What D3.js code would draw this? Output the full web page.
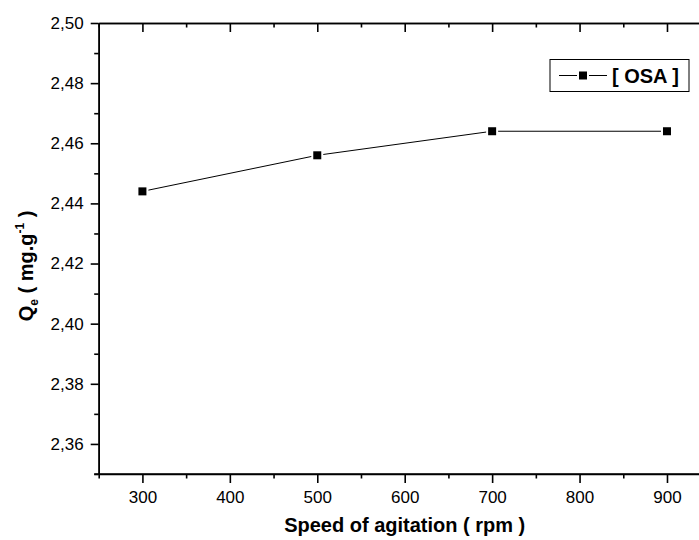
<!DOCTYPE html>
<html>
<head>
<meta charset="utf-8">
<script src="https://cdn.jsdelivr.net/npm/d3@7"></script>
<style>
  body { margin: 0; background: #fff; }
  svg { display: block; font-family: "Liberation Sans", Arial, sans-serif; }
  .axis path, .axis line { stroke: #000; stroke-width: 1.6; }
  .axis text { font-size: 17px; fill: #000; }
</style>
</head>
<body>
<svg id="chart"></svg>
<script>
// data
const speeds = [300, 500, 700, 900];
const qeValues = [2.444, 2.456, 2.464, 2.464];
const xMajor = [300, 400, 500, 600, 700, 800, 900];
const xMinor = [250, 350, 450, 550, 650, 750, 850, 950];
const yMajor = [2.36, 2.38, 2.40, 2.42, 2.44, 2.46, 2.48, 2.50];
const yMinor = [2.35, 2.37, 2.39, 2.41, 2.43, 2.45, 2.47, 2.49];
const seriesName = '[ OSA ]';

const svgDim = { w: 699, h: 540 },
  plot = { l: 98.7, r: 710.7, t: 23, b: 474 },
  $svg = d3.select('#chart')
    .attr('width', svgDim.w)
    .attr('height', svgDim.h);

const xScale = d3.scaleLinear().domain([250, 950]).range([plot.l, plot.r]),
  yScale = d3.scaleLinear().domain([2.35, 2.50]).range([plot.b, plot.t]),
  commaFmt = (d) => d3.format('.2f')(d).replace('.', ',');

// bottom axis
$svg.append('g').attr('class', 'axis')
  .attr('transform', 'translate(0,' + plot.b + ')')
  .call(d3.axisBottom(xScale).tickValues(xMajor).tickSize(9).tickSizeOuter(0).tickPadding(8));
$svg.append('g').attr('class', 'axis')
  .attr('transform', 'translate(0,' + plot.b + ')')
  .call(d3.axisBottom(xScale).tickValues(xMinor).tickSize(4.5).tickSizeOuter(0).tickFormat(''))
  .select('.domain').attr('d', 'M' + (plot.l - 4.5) + ',0H' + plot.r);

// top axis, ticks pointing inward
$svg.append('g').attr('class', 'axis')
  .attr('transform', 'translate(0,' + plot.t + ')')
  .call(d3.axisTop(xScale).tickValues(xMajor).tickSize(-9).tickSizeOuter(0).tickFormat(''));
$svg.append('g').attr('class', 'axis')
  .attr('transform', 'translate(0,' + plot.t + ')')
  .call(d3.axisTop(xScale).tickValues(xMinor).tickSize(-4.5).tickSizeOuter(0).tickFormat(''));

// left axis
$svg.append('g').attr('class', 'axis')
  .attr('transform', 'translate(' + plot.l + ',0)')
  .call(d3.axisLeft(yScale).tickValues(yMajor).tickSize(8).tickSizeOuter(0).tickPadding(7).tickFormat(commaFmt));
$svg.append('g').attr('class', 'axis')
  .attr('transform', 'translate(' + plot.l + ',0)')
  .call(d3.axisLeft(yScale).tickValues(yMinor).tickSize(4.5).tickSizeOuter(0).tickFormat(''));

// data line
const points = speeds.map((s, i) => [xScale(s), yScale(qeValues[i])]);
$svg.append('path')
  .attr('d', d3.line()(points))
  .attr('fill', 'none')
  .attr('stroke', '#000')
  .attr('stroke-width', 1);

const drawMarker = (g, cx, cy) => {
  g.append('rect').attr('x', cx - 6).attr('y', cy - 6).attr('width', 12).attr('height', 12).attr('fill', '#fff');
  g.append('rect').attr('x', cx - 4).attr('y', cy - 4).attr('width', 8).attr('height', 8).attr('fill', '#000');
};
const markers = $svg.append('g');
points.forEach((p) => drawMarker(markers, p[0], p[1]));

// legend
const legend = $svg.append('g');
legend.append('rect')
  .attr('x', 550).attr('y', 59.5).attr('width', 139).attr('height', 32)
  .attr('fill', '#fff').attr('stroke', '#000').attr('stroke-width', 1);
legend.append('line')
  .attr('x1', 559).attr('x2', 607).attr('y1', 75.5).attr('y2', 75.5)
  .attr('stroke', '#000').attr('stroke-width', 1);
drawMarker(legend, 583, 75.5);
legend.append('text')
  .attr('x', 612).attr('y', 83)
  .attr('font-size', 20).attr('font-weight', 'bold')
  .text(seriesName);

// axis titles
$svg.append('text')
  .attr('x', (plot.l + plot.r) / 2)
  .attr('y', 532)
  .attr('text-anchor', 'middle')
  .attr('font-size', 20)
  .attr('font-weight', 'bold')
  .text('Speed of agitation ( rpm )');

const yTitle = $svg.append('text')
  .attr('text-anchor', 'middle')
  .attr('font-size', 20)
  .attr('font-weight', 'bold')
  .attr('transform', 'translate(33,266) rotate(-90)');
yTitle.append('tspan').text('Q');
yTitle.append('tspan').attr('font-size', 12).attr('dy', 5).text('e');
yTitle.append('tspan').attr('dy', -5).text(' ( mg.g');
yTitle.append('tspan').attr('font-size', 12).attr('dy', -9).text('-1');
yTitle.append('tspan').attr('dy', 9).text(' )');
</script>
</body>
</html>
